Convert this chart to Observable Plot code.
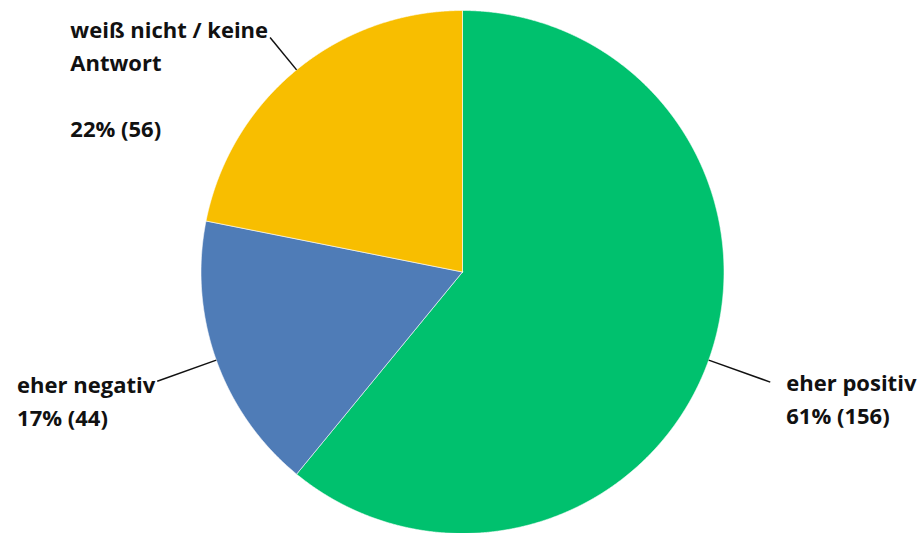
<!DOCTYPE html>
<html><head><meta charset="utf-8">
<script src="https://cdn.jsdelivr.net/npm/d3@7"></script>
<script src="https://cdn.jsdelivr.net/npm/@observablehq/plot@0.6"></script>
<style>body{margin:0;background:#fff}#chart svg{display:block}</style>
</head><body><div id="chart"></div>
<script>
// ---- data ----
const categories = ["eher positiv", "eher negativ", "weiß nicht / keine\nAntwort"];
const counts = [156, 44, 56];
const percents = [61, 17, 22];

// ---- layout / style ----
const W = 922, H = 533, cx = 462, cy = 271.5, R = 261.5;
const colors = ["#00c16e", "#4f7cb7", "#f8be00"];
const FONT = "'Open Sans', sans-serif";
const FS = 22;
const leaderLen = [1.25, 1.24, 1.16];
const textDy = [-15, -12, -23];
const pxToUnit = 1 / R;

const arcs = d3.pie().sort(null).value(d => d)(counts);

function slicePoints(a) {
  const pts = [{x: 0, y: 0}];
  const n = Math.max(2, Math.ceil((a.endAngle - a.startAngle) / 0.003));
  for (let k = 0; k <= n; k++) {
    const t = a.startAngle + (a.endAngle - a.startAngle) * k / n;
    pts.push({x: Math.sin(t), y: Math.cos(t)});
  }
  pts.push({x: 0, y: 0});
  return pts;
}

const ctx = document.createElement("canvas").getContext("2d");
ctx.font = `700 ${FS}px 'Open Sans'`;

const leaders = arcs.map((a, i) => {
  const m = (a.startAngle + a.endAngle) / 2;
  return {
    x1: Math.sin(m), y1: Math.cos(m),
    x2: Math.sin(m) * leaderLen[i], y2: Math.cos(m) * leaderLen[i],
    side: Math.sin(m) >= 0 ? "right" : "left"
  };
});

const labels = arcs.map((a, i) => {
  const L = leaders[i];
  const first = categories[i].split("\n")[0];
  const text = categories[i] + "\n" + (i === 2 ? "\u00a0\n" : "") + `${percents[i]}% (${counts[i]})`;
  let x;
  if (L.side === "right") x = L.x2 + 16 * pxToUnit;
  else x = L.x2 - (ctx.measureText(first).width + 2) * pxToUnit;
  return {x, y: L.y2, text, dy: textDy[i]};
});

const marks = [];
arcs.forEach((a, i) => {
  marks.push(Plot.line(slicePoints(a), {x: "x", y: "y", fill: colors[i], stroke: "white", strokeWidth: 0.6, curve: "linear"}));
});
marks.push(Plot.link(leaders, {x1: "x1", y1: "y1", x2: "x2", y2: "y2", stroke: "#111", strokeWidth: 1.5}));
labels.forEach(l => {
  marks.push(Plot.text([l], {x: "x", y: "y", text: "text", textAnchor: "start", lineAnchor: "top", lineHeight: 1.5,
    fontSize: FS, fontWeight: 700, fontFamily: FONT, fill: "#111", dy: l.dy}));
});

const chart = Plot.plot({
  width: W, height: H,
  margin: 0,
  x: {domain: [-cx / R, (W - cx) / R], axis: null},
  y: {domain: [-(H - cy) / R, cy / R], axis: null},
  style: {background: "#fff", overflow: "visible"},
  marks
});
document.getElementById("chart").appendChild(chart);
</script>
</body></html>
